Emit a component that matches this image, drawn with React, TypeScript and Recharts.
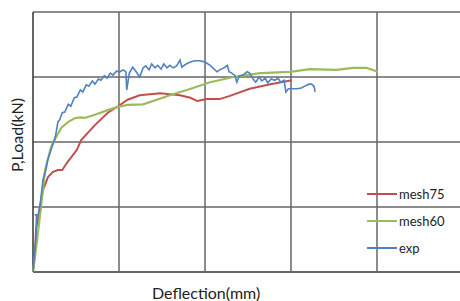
import { LineChart, Line, XAxis, YAxis, ReferenceLine } from 'recharts'

const xTicks = [0, 1, 2, 3, 4, 5]
const yTicks = [0, 1, 2, 3, 4]

const mesh75 = [
  [0, 0], [0.023, 0.29], [0.035, 0.65], [0.08, 1.0], [0.116, 1.26], [0.174, 1.46], [0.233, 1.54],
  [0.29, 1.57], [0.34, 1.57], [0.395, 1.68], [0.51, 1.88], [0.56, 2.03], [0.72, 2.26], [0.87, 2.45],
  [0.99, 2.55], [1.1, 2.65], [1.24, 2.72], [1.48, 2.75], [1.71, 2.72], [1.83, 2.68], [1.91, 2.63],
  [2.02, 2.66], [2.17, 2.66], [2.29, 2.71], [2.52, 2.82], [2.76, 2.89], [3.01, 2.95],
]

const mesh60 = [
  [0, 0], [0.047, 0.49], [0.093, 1.0], [0.14, 1.57], [0.21, 1.92], [0.27, 2.08], [0.33, 2.22],
  [0.41, 2.31], [0.49, 2.37], [0.55, 2.38], [0.6, 2.37], [0.72, 2.42], [0.87, 2.49], [0.99, 2.54],
  [1.1, 2.57], [1.28, 2.58], [1.44, 2.65], [1.59, 2.72], [1.79, 2.8], [2.06, 2.92], [2.33, 3.0],
  [2.64, 3.06], [2.99, 3.08], [3.22, 3.12], [3.53, 3.11], [3.72, 3.14], [3.88, 3.14], [4.01, 3.08],
]

const exp = [
  [0, 0], [0.023, 0.34], [0.035, 0.54], [0.04, 0.86], [0.03, 0.88], [0.06, 0.88], [0.08, 1.0],
  [0.116, 1.42], [0.15, 1.57], [0.17, 1.72], [0.21, 1.88], [0.26, 2.08], [0.29, 2.31], [0.31, 2.34],
  [0.34, 2.45], [0.37, 2.46], [0.41, 2.58], [0.44, 2.55], [0.48, 2.68], [0.51, 2.69], [0.55, 2.8],
  [0.58, 2.77], [0.62, 2.88], [0.65, 2.86], [0.69, 2.94], [0.72, 2.89], [0.76, 2.97], [0.79, 2.95],
  [0.83, 3.02], [0.86, 2.98], [0.9, 3.06], [0.93, 3.03], [0.97, 3.09], [1.01, 3.08], [1.05, 3.11],
  [1.08, 3.08], [1.09, 2.8], [1.12, 3.06], [1.16, 3.15], [1.2, 3.08], [1.24, 3.0], [1.28, 3.14],
  [1.31, 3.17], [1.35, 3.11], [1.38, 3.2], [1.42, 3.14], [1.45, 3.18], [1.49, 3.12], [1.52, 3.2],
  [1.56, 3.14], [1.59, 3.18], [1.63, 3.14], [1.67, 3.17], [1.71, 3.26], [1.73, 3.15], [1.78, 3.2],
  [1.83, 3.23], [1.88, 3.25], [1.94, 3.25], [2.0, 3.23], [2.06, 3.18], [2.09, 3.14], [2.14, 3.08],
  [2.17, 3.11], [2.22, 3.14], [2.26, 3.18], [2.28, 3.08], [2.31, 3.06], [2.35, 3.02], [2.37, 2.92],
  [2.4, 3.02], [2.44, 3.03], [2.49, 3.08], [2.52, 3.06], [2.56, 2.97], [2.59, 2.92], [2.63, 3.0],
  [2.66, 2.94], [2.7, 2.98], [2.73, 2.91], [2.77, 2.97], [2.81, 2.95], [2.85, 2.98], [2.88, 2.92],
  [2.92, 2.95], [2.94, 2.77], [2.97, 2.82], [3.01, 2.82], [3.07, 2.82], [3.12, 2.83], [3.16, 2.86],
  [3.21, 2.89], [3.24, 2.89], [3.27, 2.85], [3.28, 2.77],
]

const series = [
  { name: 'mesh75', color: '#C0504D', width: 2, pts: mesh75 },
  { name: 'mesh60', color: '#9BBB59', width: 2.2, pts: mesh60 },
  { name: 'exp', color: '#4F81BD', width: 1.6, pts: exp },
]

const font = 'Lato, "Open Sans", sans-serif'
const gridColor = '#666'

export default function App() {
  return (
    <div style={{ position: 'absolute', left: 0, top: 0, width: 460, height: 301, overflow: 'hidden', background: '#fff', fontFamily: font }}>
      <LineChart width={480} height={301} margin={{ top: 12, right: 17, bottom: 29, left: 33 }}>
        <XAxis type="number" dataKey="x" domain={[0, 5]} ticks={xTicks} tick={false} tickLine={false} axisLine={false} height={0} />
        <YAxis type="number" dataKey="y" domain={[0, 4]} ticks={yTicks} tick={false} tickLine={false} axisLine={false} width={0} />
        {yTicks.map(t => (
          <ReferenceLine key={'y' + t} y={t} stroke={t === 0 ? '#333' : gridColor} strokeWidth={1.5} ifOverflow="visible" />
        ))}
        {xTicks.map(t => (
          <ReferenceLine key={'x' + t} x={t} stroke={t === 0 ? '#333' : gridColor} strokeWidth={1.5} ifOverflow="visible" />
        ))}
        {series.map(s => (
          <Line key={s.name} data={s.pts.map(([x, y]) => ({ x, y }))} dataKey="y" name={s.name}
            stroke={s.color} strokeWidth={s.width} dot={false} type="linear" isAnimationActive={false} />
        ))}
      </LineChart>
      {series.map((s, i) => (
        <div key={s.name} style={{ position: 'absolute', left: 367, top: 185 + i * 27, display: 'flex', alignItems: 'center', height: 18 }}>
          <div style={{ width: 30, height: 2, background: s.color }} />
          <span style={{ marginLeft: 2, fontSize: 13, color: '#222' }}>{s.name}</span>
        </div>
      ))}
      <div style={{ position: 'absolute', left: 152, top: 283, fontSize: 16, color: '#222', whiteSpace: 'nowrap' }}>
        Deflection(mm)
      </div>
      <div style={{ position: 'absolute', left: 16, top: 135, transform: 'translate(-50%, -50%) rotate(-90deg)', fontSize: 16, color: '#222', whiteSpace: 'nowrap' }}>
        P,Load(kN)
      </div>
    </div>
  )
}
